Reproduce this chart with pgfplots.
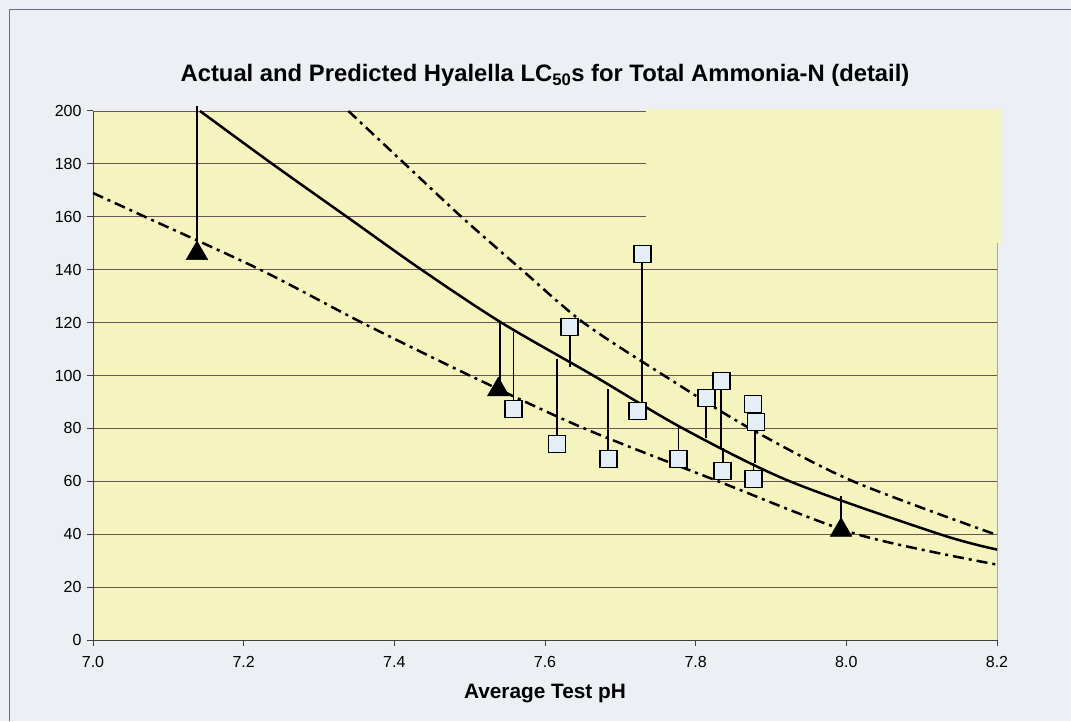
\documentclass[border=0pt]{standalone}
\usepackage{pgfplots}
\pgfplotsset{compat=1.18}
\usepackage{fontspec}
\setmainfont{Liberation Sans}
\definecolor{bgc}{RGB}{236,240,244}
\definecolor{plotbg}{RGB}{245,243,190}
\definecolor{gridc}{RGB}{105,85,90}
\definecolor{framec}{RGB}{110,110,130}
\definecolor{sqfill}{RGB}{228,238,246}
\begin{document}
\begin{tikzpicture}
\fill[bgc] (0,0) rectangle (1071pt,721pt);
\useasboundingbox (0,0) rectangle (1071pt,721pt);
\draw[framec, line width=1.2pt] (9.5pt,0) -- (9.5pt,711.5pt) -- (1071pt,711.5pt);
\begin{axis}[
  at={(93pt,81pt)}, anchor=south west,
  scale only axis, width=904pt, height=529pt,
  xmin=7, xmax=8.2, ymin=0, ymax=200,
  clip=false,
  axis background/.style={fill=plotbg},
  axis x line*=bottom, axis y line*=left,
  axis line style={-, draw=black!75, line width=1pt},
  tick style={black!75, line width=1pt},
  tick align=outside, major tick length=6pt,
  xtick={7,7.2,7.4,7.6,7.8,8.0,8.2},
  xticklabels={7.0,7.2,7.4,7.6,7.8,8.0,8.2},
  ytick={0,20,40,60,80,100,120,140,160,180,200},
  yticklabels={0,20,40,60,80,100,120,140,160,180,200},
  tick label style={font=\fontsize{16}{18}\selectfont},
  xticklabel style={font=\fontsize{16}{18}\selectfont, anchor=base, yshift=-21pt},
  yticklabel style={font=\fontsize{16}{18}\selectfont, anchor=east, xshift=-2pt},
  /pgf/number format/assume math mode=true,
  ymajorgrids, major grid style={gridc, line width=0.9pt},
  extra x ticks={8.2}, extra x tick labels={},
  extra x tick style={grid=major, major grid style={gray!70, line width=1pt}},
  title={Actual and Predicted Hyalella LC\textsubscript{50}s for Total Ammonia-N (detail)},
  title style={font=\bfseries\fontsize{23.8}{26}\selectfont, anchor=base, at={(0.5,1)}, yshift=23pt},
  xlabel={Average Test pH},
  xlabel style={font=\bfseries\fontsize{20.8}{24}\selectfont, at={(axis description cs:0.5,0)}, anchor=base, yshift=-58pt},
]
% scan artifact: gridlines missing in upper right
\fill[plotbg] (axis cs:7.734,150) rectangle (axis cs:8.206,200.6);
% predicted (solid)
\addplot[black, line width=2.5pt, smooth] coordinates {
(7.142,200) (7.238,180) (7.337,160) (7.436,140) (7.542,120) (7.664,100) (7.783,80) (7.925,60) (8.124,40) (8.2,34.2)};
% upper bound (dash-dot)
\addplot[black, line width=2.5pt, smooth, dash pattern=on 11pt off 5pt on 3pt off 5pt] coordinates {
(7.339,200) (7.414,180) (7.489,160) (7.569,140) (7.651,120) (7.758,100) (7.872,80) (8.009,60) (8.2,39.7)};
% lower bound (dash-dot)
\addplot[black, line width=2.5pt, smooth, dash pattern=on 11pt off 5pt on 3pt off 5pt] coordinates {
(7.0,169) (7.069,160) (7.222,140) (7.357,120) (7.500,100) (7.652,80) (7.830,60) (8.014,40) (8.2,28.5)};
% residual lines
\addplot[black, line width=1.6pt] coordinates {(7.138,147.3) (7.138,202)};
\addplot[black, line width=1.6pt] coordinates {(7.540,95.8) (7.540,120.3)};
\addplot[black, line width=1.6pt] coordinates {(7.558,87.3) (7.558,116.5)};
\addplot[black, line width=1.6pt] coordinates {(7.616,74.1) (7.616,106.3)};
\addplot[black, line width=1.6pt] coordinates {(7.633,118.3) (7.633,103.3)};
\addplot[black, line width=1.6pt] coordinates {(7.684,68.4) (7.684,95)};
\addplot[black, line width=1.6pt] coordinates {(7.729,145.9) (7.729,89.5)};
\addplot[black, line width=1.6pt] coordinates {(7.777,68.4) (7.777,81)};
\addplot[black, line width=1.6pt] coordinates {(7.814,91.5) (7.814,76.5)};
\addplot[black, line width=1.6pt] coordinates {(7.834,97.9) (7.834,72.5)};
\addplot[black, line width=1.6pt] coordinates {(7.836,63.9) (7.836,72.5)};
\addplot[black, line width=1.6pt] coordinates {(7.879,82.4) (7.879,67)};
\addplot[black, line width=1.6pt] coordinates {(7.877,60.9) (7.877,67)};
\addplot[black, line width=1.6pt] coordinates {(7.993,42.7) (7.993,54.5)};
% measured LC50s (squares)
\addplot[only marks, mark=square*, mark size=8.5pt, mark options={fill=sqfill, draw=black, line width=1.8pt}] coordinates {
(7.558,87.3) (7.616,74.1) (7.633,118.3) (7.684,68.4) (7.723,86.6) (7.729,145.9) (7.777,68.4) (7.814,91.5) (7.834,97.9) (7.836,63.9) (7.876,89.2) (7.880,82.4) (7.877,60.9)};
% triangles
\addplot[only marks, mark=triangle*, mark size=12.5pt, mark options={fill=black, draw=black, yshift=-3pt}] coordinates {
(7.138,147.3) (7.538,95.8) (7.993,42.7)};
\end{axis}
\end{tikzpicture}
\end{document}
